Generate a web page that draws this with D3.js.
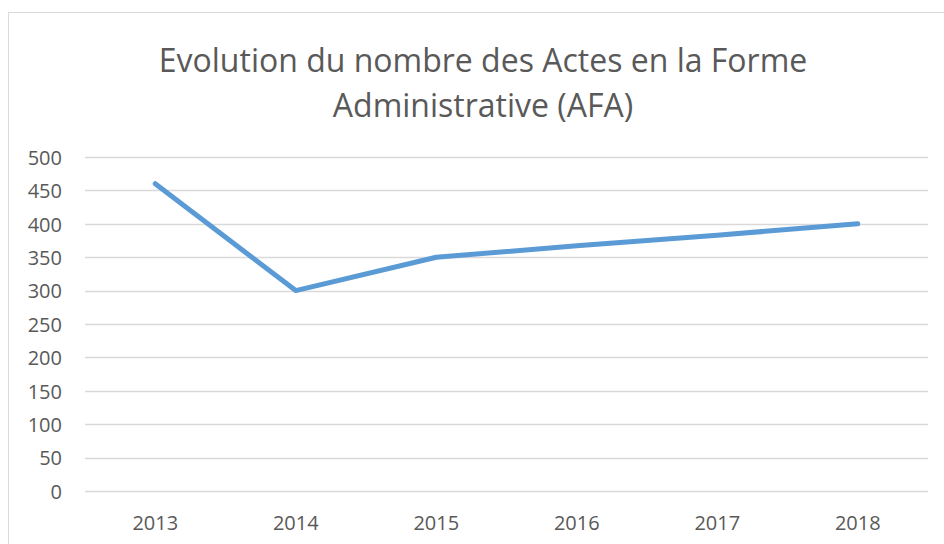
<!DOCTYPE html>
<html>
<head>
<meta charset="utf-8">
<script src="https://cdn.jsdelivr.net/npm/d3@7"></script>
<style>
  body { margin: 0; background: #fff; }
  text { font-family: "Open Sans", "Liberation Sans", sans-serif; fill: #595959; }
</style>
</head>
<body>
<script>
const years = ['2013', '2014', '2015', '2016', '2017', '2018'];
const actes = [460, 300, 350, 367, 383, 400];
const yTicks = [0, 50, 100, 150, 200, 250, 300, 350, 400, 450, 500];
const titleLines = ['Evolution du nombre des Actes en la Forme', 'Administrative (AFA)'];

const WIDTH = 944, HEIGHT = 544;
const MARGIN = { top: 157, right: 16, bottom: 53, left: 85 };

const svg = d3.select('body').append('svg')
  .attr('width', WIDTH)
  .attr('height', HEIGHT);

// chart frame
svg.append('rect')
  .attr('x', 8.5).attr('y', 12.5)
  .attr('width', WIDTH).attr('height', HEIGHT)
  .attr('fill', 'none')
  .attr('stroke', '#d9d9d9');

svg.append('text')
  .attr('text-anchor', 'middle')
  .style('font-size', '32px')
  .selectAll('tspan')
  .data(titleLines)
  .enter().append('tspan')
    .attr('x', 483)
    .attr('y', (d, i) => 72 + i * 45)
    .text((d) => d);

const x = d3.scaleBand()
  .domain(years)
  .range([MARGIN.left, WIDTH - MARGIN.right]);

const y = d3.scaleLinear()
  .domain([0, 500])
  .range([HEIGHT - MARGIN.bottom, MARGIN.top]);

// gridlines
svg.append('g')
  .selectAll('line')
  .data(yTicks)
  .enter().append('line')
    .attr('x1', MARGIN.left)
    .attr('x2', WIDTH - MARGIN.right)
    .attr('y1', (d) => Math.round(y(d)) + 0.5)
    .attr('y2', (d) => Math.round(y(d)) + 0.5)
    .attr('stroke', '#d9d9d9')
    .attr('stroke-width', 1.5);

const tickFont = (sel) => sel
  .style('font-size', '20px')
  .style('fill', '#595959')
  .style('font-family', '"Open Sans", "Liberation Sans", sans-serif');

const yAxis = svg.append('g')
  .attr('transform', `translate(${MARGIN.left - 23}, 0)`)
  .call(d3.axisLeft(y).tickValues(yTicks).tickSize(0).tickPadding(0));
yAxis.select('.domain').remove();
yAxis.selectAll('text').call(tickFont).attr('dy', '0.36em');

const xAxis = svg.append('g')
  .attr('transform', `translate(0, ${HEIGHT - MARGIN.bottom})`)
  .call(d3.axisBottom(x).tickSize(0).tickPadding(0));
xAxis.select('.domain').remove();
xAxis.selectAll('text').call(tickFont).attr('dy', null).attr('y', 39);

const line = d3.line()
  .x((d, i) => x(years[i]) + x.bandwidth() / 2)
  .y((d) => y(d));

svg.append('path')
  .datum(actes)
  .attr('d', line)
  .attr('fill', 'none')
  .attr('stroke', '#5b9bd5')
  .attr('stroke-width', 5)
  .attr('stroke-linecap', 'round')
  .attr('stroke-linejoin', 'round');
</script>
</body>
</html>
